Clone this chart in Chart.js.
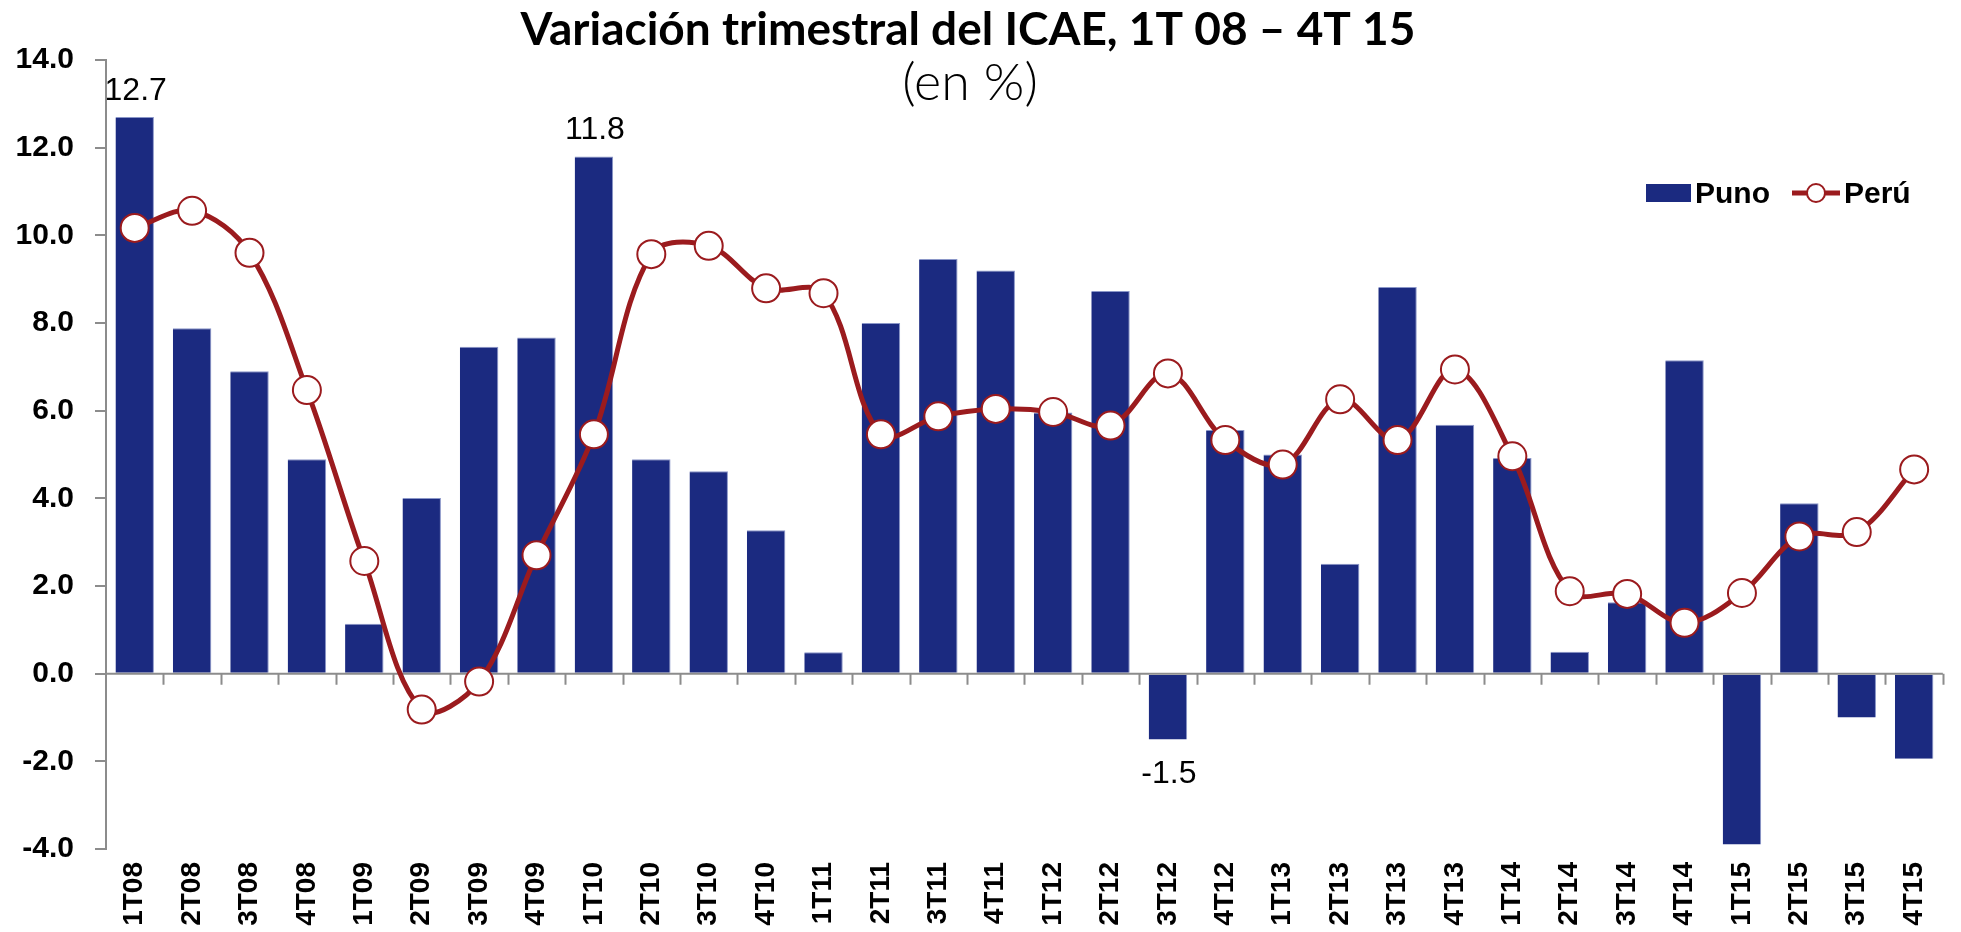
<!DOCTYPE html>
<html>
<head>
<meta charset="utf-8">
<script src="https://cdn.jsdelivr.net/npm/chart.js@4.4.1/dist/chart.umd.min.js"></script>
<style>
    body { margin: 0; background: #ffffff; }
    #wrap { width: 1961px; height: 932px; }
</style>
</head>
<body>
<div id="wrap"><canvas id="myChart" width="1961" height="932"></canvas></div>
<script>
// data
const categories = ['1T08', '2T08', '3T08', '4T08', '1T09', '2T09', '3T09', '4T09',
    '1T10', '2T10', '3T10', '4T10', '1T11', '2T11', '3T11', '4T11',
    '1T12', '2T12', '3T12', '4T12', '1T13', '2T13', '3T13', '4T13',
    '1T14', '2T14', '3T14', '4T14', '1T15', '2T15', '3T15', '4T15'];

const punoValues = [12.7, 7.88, 6.9, 4.89, 1.14, 4.01, 7.46, 7.67,
    11.8, 4.89, 4.62, 3.27, 0.49, 8.0, 9.46, 9.2,
    5.96, 8.73, -1.5, 5.56, 5.0, 2.51, 8.82, 5.68,
    4.92, 0.5, 1.63, 7.15, -3.9, 3.89, -1.0, -1.94];

const peruValues = [10.17, 10.56, 9.6, 6.47, 2.57, -0.82, -0.18, 2.7,
    5.46, 9.57, 9.76, 8.79, 8.68, 5.46, 5.87, 6.04,
    5.97, 5.66, 6.85, 5.33, 4.77, 6.26, 5.33, 6.94,
    4.96, 1.88, 1.82, 1.16, 1.84, 3.13, 3.23, 4.66];

// only these bars get a value label
const labeledBars = ['1T08', '1T10', '3T12'];

const yTicks = { min: -4, max: 14, step: 2 };

const titleText = 'Variación trimestral del ICAE, 1T 08 – 4T 15';
const subtitleText = '(en %)';

const navy = '#1b2a80';
const darkRed = '#9b1b1e';
const axisGray = '#8c8c8c';

// title, zero line, value labels and legend drawn by hand
const extrasPlugin = {
    id: 'extras',
    afterDatasetDraw(chart, args) {
        if (args.index !== 0) return; // after bars, before the line
        const { ctx, chartArea, scales } = chart;
        const y0 = scales.y.getPixelForValue(0);
        const step = (chartArea.right - chartArea.left) / categories.length;
        ctx.save();
        ctx.strokeStyle = axisGray;
        ctx.lineWidth = 2;
        ctx.beginPath();
        ctx.moveTo(chartArea.left, y0);
        ctx.lineTo(chartArea.right, y0);
        for (let i = 1; i <= categories.length; i++) {
            const x = Math.round(chartArea.left + i * step) + 0.5;
            ctx.moveTo(x, y0);
            ctx.lineTo(x, y0 + 11);
        }
        ctx.stroke();
        ctx.restore();
    },
    afterDraw(chart) {
        const { ctx, scales } = chart;
        ctx.save();

        // title
        ctx.fillStyle = '#000';
        ctx.textAlign = 'center';
        ctx.textBaseline = 'alphabetic';
        ctx.font = 'bold 46px Lato, "Liberation Sans", sans-serif';
        ctx.fillText(titleText, 968, 45);
        ctx.font = '300 52px Lato, "Liberation Sans", sans-serif';
        ctx.fillText(subtitleText, 970, 100);

        // value labels on some bars
        ctx.font = '32px "Liberation Sans", Arial, sans-serif';
        const barMeta = chart.getDatasetMeta(0);
        labeledBars.forEach(cat => {
            const i = categories.indexOf(cat);
            const v = punoValues[i];
            const bar = barMeta.data[i];
            const yTop = scales.y.getPixelForValue(v);
            const y = v >= 0 ? yTop - 17 : yTop + 44;
            ctx.fillText(v.toFixed(1), bar.x + 1, y);
        });

        // legend
        ctx.textAlign = 'left';
        ctx.font = 'bold 30px "Liberation Sans", Arial, sans-serif';
        ctx.fillStyle = navy;
        ctx.fillRect(1646, 184, 45, 18);
        ctx.fillStyle = '#000';
        ctx.fillText(chart.data.datasets[0].label, 1695, 203);

        ctx.strokeStyle = darkRed;
        ctx.lineWidth = 5;
        ctx.beginPath();
        ctx.moveTo(1792, 193);
        ctx.lineTo(1840, 193);
        ctx.stroke();
        ctx.beginPath();
        ctx.arc(1816, 193, 9, 0, Math.PI * 2);
        ctx.fillStyle = '#fff';
        ctx.fill();
        ctx.lineWidth = 2;
        ctx.stroke();
        ctx.fillStyle = '#000';
        ctx.fillText(chart.data.datasets[1].label, 1844, 203);

        ctx.restore();
    }
};

const ctx = document.getElementById('myChart');
let myChart = new Chart(ctx, {
    type: 'bar',
    data: {
        labels: categories,
        datasets: [{
            type: 'bar',
            label: 'Puno',
            data: punoValues,
            backgroundColor: navy,
            borderColor: '#8a96c8',
            borderWidth: { top: 1, right: 1, left: 0, bottom: 0 },
            barPercentage: 0.67,
            categoryPercentage: 1,
            order: 1
        }, {
            type: 'line',
            label: 'Perú',
            data: peruValues,
            borderColor: darkRed,
            borderWidth: 5,
            tension: 0.35,
            pointRadius: 14,
            pointBorderWidth: 2,
            pointBackgroundColor: '#ffffff',
            pointBorderColor: darkRed,
            order: 0
        }]
    },
    options: {
        responsive: false,
        animation: false,
        devicePixelRatio: 1,
        layout: {
            padding: { top: 60, right: 9, left: 0, bottom: 0 }
        },
        plugins: {
            legend: { display: false },
            title: { display: false },
            tooltip: { enabled: false }
        },
        scales: {
            x: {
                grid: { display: false, drawTicks: false },
                border: { display: false },
                ticks: {
                    minRotation: 90,
                    maxRotation: 90,
                    padding: 13,
                    color: '#000',
                    font: { family: '"Liberation Sans", Arial, sans-serif', size: 28, weight: 'bold' }
                },
                afterFit(scale) { scale.height = 83; }
            },
            y: {
                min: yTicks.min,
                max: yTicks.max,
                grid: {
                    drawOnChartArea: false,
                    drawTicks: true,
                    tickLength: 11,
                    color: axisGray,
                    lineWidth: 2
                },
                border: { display: true, color: axisGray, width: 2 },
                ticks: {
                    stepSize: yTicks.step,
                    padding: 21,
                    color: '#000',
                    font: { family: '"Liberation Sans", Arial, sans-serif', size: 30, weight: 'bold' },
                    callback: value => value.toFixed(1)
                },
                afterFit(scale) { scale.width = 106; }
            }
        }
    },
    plugins: [extrasPlugin]
});
</script>
</body>
</html>
